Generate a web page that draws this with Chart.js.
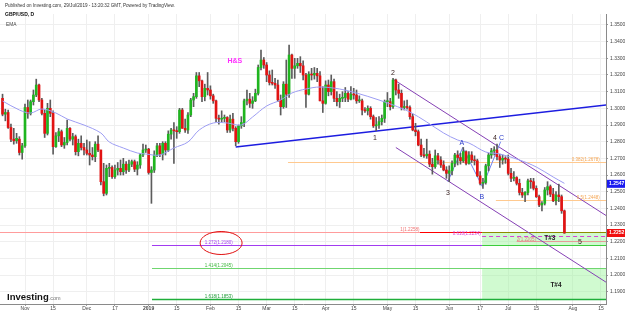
<!doctype html>
<html lang="en">
    <head>
        <meta charset="UTF-8" />
        <title>GBP/USD, D</title>
        <style>
            html, body { margin: 0; padding: 0; background: #fff; }
            canvas { display: block; }
        </style>
    </head>
    <body>
        <canvas id="chart" width="625" height="313"></canvas>

        <script src="https://cdn.jsdelivr.net/npm/chart.js@4.4.0/dist/chart.umd.min.js"></script>

        <script>
            // daily bars, 22 Oct 2018 .. 29 Jul 2019 (index 0 = 22 Oct)
            // prettier-ignore
            const opens = [
                1.3060,1.2965,1.2975,1.2885,1.2815, 1.2805,1.2815,1.2735,1.2775,1.3005,
                1.2970,1.3040,1.3080,1.3140,1.3050, 1.2970,1.2850,1.3000,1.2970,1.2770,
                1.2835,1.2860,1.2780,1.2795,1.2880, 1.2815,1.2830,1.2740,1.2790,1.2765,
                1.2750,1.2730,1.2720,1.2710,1.2785, 1.2750,1.2560,1.2490,1.2640,1.2645,
                1.2590,1.2630,1.2640,1.2620,1.2665, 1.2630,1.2665,1.2680,1.2635,1.2660,
                1.2720,1.2750,1.2755,1.2615,1.2630, 1.2720,1.2775,1.2725,1.2790,1.2750,
                1.2845,1.2870,1.2865,1.2860,1.2990, 1.2880,1.2870,1.2960,1.3050,1.3070,
                1.3195,1.3165,1.3070,1.3120,1.3110, 1.3075,1.3045,1.2940,1.2935,1.2940,
                1.2945,1.2870,1.2935,1.2880,1.2800, 1.2895,1.2915,1.3045,1.3055,1.3030,
                1.3045,1.3090,1.3245,1.3290,1.3260, 1.3200,1.3155,1.3150,1.3140,1.3050,
                1.3010,1.3145,1.3085,1.3320,1.3240, 1.3255,1.3270,1.3255,1.3200,1.3085,
                1.3205,1.3200,1.3210,1.3195,1.3045, 1.3030,1.3140,1.3100,1.3160,1.3060,
                1.3040,1.3060,1.3065,1.3090,1.3055, 1.3085,1.3080,1.3045,1.3045,1.2990,
                1.2985,1.3000,1.2950,1.2895,1.2900, 1.2920,1.2940,1.3040,1.3040,1.3010,
                1.3170,1.3110,1.3090,1.3005,1.3010, 1.3005,1.2950,1.2870,1.2860,1.2780,
                1.2720,1.2715,1.2725,1.2665,1.2650, 1.2715,1.2690,1.2660,1.2630,1.2610,
                1.2625,1.2670,1.2720,1.2705,1.2685, 1.2740,1.2670,1.2720,1.2690,1.2685,
                1.2595,1.2550,1.2555,1.2655,1.2720, 1.2745,1.2750,1.2710,1.2690,1.2700,
                1.2695,1.2610,1.2580,1.2585,1.2550, 1.2495,1.2480,1.2495,1.2565,1.2560,
                1.2520,1.2470,1.2420,1.2430,1.2510, 1.2530,1.2485,1.2445,1.2480,1.2470,
                1.2385
            ];
            // prettier-ignore
            const highs = [
                1.3085,1.2995,1.2990,1.2905,1.2880, 1.2850,1.2830,1.2790,1.3025,1.3050,
                1.3050,1.3110,1.3175,1.3145,1.3060, 1.2990,1.3030,1.3050,1.2985,1.2855,
                1.2880,1.2870,1.2825,1.2930,1.2885, 1.2850,1.2840,1.2815,1.2835,1.2790,
                1.2810,1.2800,1.2765,1.2800,1.2835, 1.2750,1.2670,1.2660,1.2670,1.2655,
                1.2660,1.2675,1.2690,1.2700,1.2680, 1.2690,1.2690,1.2690,1.2680,1.2730,
                1.2785,1.2780,1.2760,1.2650,1.2745, 1.2790,1.2790,1.2800,1.2800,1.2865,
                1.2880,1.2915,1.2890,1.3000,1.3000, 1.2935,1.2975,1.3060,1.3090,1.3215,
                1.3215,1.3170,1.3145,1.3215,1.3135, 1.3085,1.3050,1.2960,1.2985,1.2960,
                1.2950,1.2960,1.2970,1.2890,1.2900, 1.2950,1.3055,1.3110,1.3090,1.3070,
                1.3115,1.3260,1.3350,1.3305,1.3275, 1.3225,1.3230,1.3180,1.3170,1.3080,
                1.3160,1.3290,1.3380,1.3325,1.3300, 1.3300,1.3310,1.3285,1.3210,1.3220,
                1.3240,1.3245,1.3240,1.3220,1.3130, 1.3165,1.3170,1.3200,1.3175,1.3100,
                1.3085,1.3100,1.3125,1.3100,1.3130, 1.3120,1.3110,1.3075,1.3055,1.3005,
                1.3015,1.3010,1.2960,1.2945,1.2950, 1.2960,1.3050,1.3095,1.3060,1.3180,
                1.3175,1.3145,1.3110,1.3045,1.3050, 1.3015,1.2965,1.2910,1.2870,1.2815,
                1.2760,1.2815,1.2745,1.2700,1.2750, 1.2730,1.2710,1.2685,1.2650,1.2655,
                1.2685,1.2730,1.2745,1.2730,1.2765, 1.2745,1.2740,1.2740,1.2715,1.2695,
                1.2620,1.2580,1.2665,1.2730,1.2760, 1.2770,1.2785,1.2725,1.2720,1.2710,
                1.2720,1.2640,1.2620,1.2590,1.2575, 1.2520,1.2500,1.2575,1.2580,1.2580,
                1.2535,1.2480,1.2440,1.2525,1.2560, 1.2540,1.2520,1.2500,1.2545,1.2480,
                1.2390
            ];
            // prettier-ignore
            const lows = [
                1.2955,1.2925,1.2880,1.2800,1.2785, 1.2790,1.2720,1.2695,1.2765,1.2940,
                1.2960,1.3020,1.3070,1.3040,1.2960, 1.2825,1.2840,1.2950,1.2725,1.2765,
                1.2800,1.2770,1.2760,1.2780,1.2805, 1.2780,1.2720,1.2715,1.2750,1.2720,
                1.2720,1.2660,1.2690,1.2680,1.2740, 1.2540,1.2475,1.2480,1.2590,1.2580,
                1.2580,1.2600,1.2600,1.2600,1.2610, 1.2620,1.2650,1.2620,1.2600,1.2640,
                1.2710,1.2735,1.2605,1.2430,1.2615, 1.2710,1.2710,1.2690,1.2720,1.2740,
                1.2815,1.2670,1.2820,1.2850,1.2880, 1.2855,1.2850,1.2950,1.3010,1.3060,
                1.3130,1.3040,1.3045,1.3080,1.3055, 1.3030,1.2920,1.2905,1.2920,1.2920,
                1.2855,1.2855,1.2865,1.2775,1.2790, 1.2880,1.2890,1.3020,1.3005,1.3000,
                1.3040,1.3080,1.3230,1.3240,1.3160, 1.3140,1.3140,1.3120,1.3040,1.2960,
                1.3000,1.3005,1.3065,1.3180,1.3180, 1.3240,1.3215,1.3170,1.3005,1.3080,
                1.3170,1.3175,1.3160,1.3045,1.2975, 1.3025,1.3075,1.3080,1.3040,1.3015,
                1.3005,1.3040,1.3040,1.3040,1.3050, 1.3055,1.3030,1.3035,1.2960,1.2975,
                1.2960,1.2935,1.2885,1.2865,1.2880, 1.2900,1.2915,1.3010,1.2990,1.3000,
                1.3080,1.3060,1.2990,1.2990,1.2995, 1.2935,1.2865,1.2835,1.2775,1.2710,
                1.2705,1.2700,1.2650,1.2605,1.2640, 1.2665,1.2645,1.2625,1.2580,1.2560,
                1.2600,1.2650,1.2660,1.2665,1.2675, 1.2660,1.2665,1.2675,1.2660,1.2590,
                1.2540,1.2520,1.2545,1.2625,1.2700, 1.2720,1.2690,1.2645,1.2665,1.2670,
                1.2600,1.2560,1.2565,1.2540,1.2480, 1.2465,1.2440,1.2480,1.2520,1.2510,
                1.2465,1.2410,1.2385,1.2420,1.2480, 1.2470,1.2440,1.2420,1.2440,1.2370,
                1.2250
            ];
            // prettier-ignore
            const closes = [
                1.2965,1.2975,1.2885,1.2815,1.2805, 1.2820,1.2735,1.2775,1.3005,1.2970,
                1.3040,1.3080,1.3140,1.3050,1.2970, 1.2850,1.3000,1.2970,1.2770,1.2835,
                1.2860,1.2780,1.2795,1.2880,1.2815, 1.2830,1.2740,1.2790,1.2765,1.2750,
                1.2730,1.2720,1.2710,1.2785,1.2750, 1.2560,1.2490,1.2640,1.2645,1.2590,
                1.2630,1.2640,1.2620,1.2665,1.2630, 1.2665,1.2680,1.2635,1.2660,1.2720,
                1.2750,1.2755,1.2615,1.2630,1.2720, 1.2775,1.2725,1.2790,1.2750,1.2845,
                1.2870,1.2865,1.2860,1.2990,1.2880, 1.2870,1.2960,1.3050,1.3070,1.3195,
                1.3165,1.3070,1.3120,1.3110,1.3075, 1.3045,1.2940,1.2935,1.2940,1.2945,
                1.2870,1.2935,1.2880,1.2800,1.2895, 1.2915,1.3045,1.3055,1.3030,1.3045,
                1.3090,1.3245,1.3290,1.3260,1.3200, 1.3155,1.3150,1.3140,1.3050,1.3010,
                1.3145,1.3085,1.3320,1.3240,1.3255, 1.3270,1.3255,1.3200,1.3085,1.3205,
                1.3200,1.3210,1.3195,1.3045,1.3030, 1.3140,1.3100,1.3160,1.3060,1.3040,
                1.3060,1.3065,1.3090,1.3055,1.3085, 1.3080,1.3045,1.3045,1.2990,1.2985,
                1.3000,1.2950,1.2895,1.2900,1.2920, 1.2940,1.3040,1.3040,1.3010,1.3170,
                1.3110,1.3090,1.3005,1.3010,1.3005, 1.2950,1.2870,1.2860,1.2780,1.2720,
                1.2715,1.2725,1.2665,1.2650,1.2715, 1.2690,1.2660,1.2630,1.2610,1.2625,
                1.2670,1.2720,1.2705,1.2685,1.2740, 1.2670,1.2720,1.2690,1.2685,1.2595,
                1.2550,1.2555,1.2655,1.2720,1.2745, 1.2750,1.2710,1.2690,1.2700,1.2695,
                1.2610,1.2580,1.2585,1.2550,1.2495, 1.2480,1.2495,1.2565,1.2560,1.2520,
                1.2470,1.2420,1.2430,1.2510,1.2530, 1.2485,1.2445,1.2480,1.2470,1.2385,
                1.2252
            ];

            // EMA at a few bars
            const emaIdx = [0, 6, 10, 14, 19, 23, 29, 35, 38, 43, 48, 51, 56, 61, 66, 70, 75, 80, 85, 89, 94, 99, 103, 108, 113, 120, 126, 134, 139, 145, 151, 157, 162, 166, 172, 177, 184, 190, 196, 200];
            const emaVal = [1.3044, 1.299, 1.2972, 1.2996, 1.2972, 1.2936, 1.29, 1.2852, 1.2798, 1.2762, 1.2732, 1.2726, 1.272, 1.2762, 1.2798, 1.287, 1.2912, 1.2912, 1.29, 1.2948, 1.3014, 1.305, 1.3092, 1.3116, 1.3128, 1.3116, 1.3092, 1.305, 1.302, 1.2978, 1.2918, 1.2852, 1.281, 1.2792, 1.2738, 1.2726, 1.269, 1.2648, 1.2588, 1.255];

            const xTickIdx = [8, 18, 30, 40, 52, 62, 74, 84, 94, 104, 115, 125, 137, 147, 159, 170, 180, 190, 203, 213];
            const xTickText = ["Nov", "15", "Dec", "17", "2019", "15", "Feb", "15", "Mar", "15", "Apr", "15", "May", "15", "Jun", "17", "Jul", "15", "Aug", "15"];
            const yTicks = [1.19, 1.2, 1.21, 1.22, 1.23, 1.24, 1.25, 1.26, 1.27, 1.28, 1.29, 1.3, 1.31, 1.32, 1.33, 1.34, 1.35];

            const lastPrice = 1.2252;
            const lastEma = 1.2547;

            const UP = "#1fb51f";
            const DOWN = "#e21313";
            const FONT = '"Liberation Sans", Arial, sans-serif';

            const wicks = lows.map((l, i) => ({ x: i, y: [l, highs[i]] }));
            const bodies = opens.map((o, i) => ({ x: i, y: [o, closes[i]] }));
            const bodyColors = opens.map((o, i) => (closes[i] >= o ? UP : DOWN));

            // drawings on the chart, in bar index / price units
            const hLines = [
                // price, from, to, colour, width, dash
                [1.2678, 101.6, 215, "#ffc98f", 1, []],
                [1.245, 175.6, 215, "#ffc98f", 1, []],
                [1.2258, -1, 148.6, "#ff9c9c", 1, []],
                [1.2258, 148.6, 170.7, "#ff0000", 1, []],
                [1.2258, 170.7, 215, "#8c8c00", 1, []],
                [1.2234, 170.7, 215, "#d743d7", 1, [4, 3]],
                [1.2205, 183, 215, "#e79a9a", 1, []],
                [1.218, 53.2, 170.7, "#a23cf0", 1, []],
                [1.218, 170.7, 215, "#3ccc3c", 1, []],
                [1.2042, 53.2, 215, "#6fd66f", 1, []],
                [1.1856, 53.2, 215, "#1fae3a", 1.5, []],
            ];
            const boxes = [
                // from, to, top, bottom
                [170.7, 215, 1.2258, 1.218],
                [170.7, 215, 1.2042, 1.1856],
            ];
            const trendLines = [
                // x1, y1, x2, y2, colour, width
                [83, 1.2768, 215, 1.302, "#1d1de0", 1.5],
                [139, 1.3175, 215, 1.2355, "#8540b5", 1],
                [140, 1.2765, 215, 1.1955, "#8540b5", 1],
            ];
            const abcPath = [
                [158.5, 1.256],
                [163.8, 1.2765],
                [170.8, 1.253],
                [177.3, 1.28],
            ];
            const texts = [
                // idx, price, text, colour, font, align
                [82.7, 1.3284, "H&S", "#ff2cff", "bold 7px", "center"],
                [132.6, 1.2822, "1", "#3b2424", "7px", "center"],
                [139, 1.3212, "2", "#3b2424", "7px", "center"],
                [158.5, 1.2492, "3", "#3b2424", "7px", "center"],
                [175.3, 1.2822, "4", "#3b2424", "7px", "center"],
                [177.6, 1.2822, "C", "#2b3cc9", "7px", "center"],
                [163.5, 1.2792, "A", "#2b3cc9", "7px", "center"],
                [170.6, 1.2468, "B", "#2b3cc9", "7px", "center"],
                [205.5, 1.2198, "5", "#3b2424", "7px", "center"],
                [194.8, 1.2222, "T#3", "#222", "bold 6.5px", "center"],
                [197, 1.194, "T#4", "#222", "bold 6.5px", "center"],
                [212.6, 1.2692, "0.382(1.2678)", "#f5a552", "4.5px", "right"],
                [212.6, 1.2462, "0.5(1.2448)", "#f5a552", "4.5px", "right"],
                [148.4, 1.2271, "1(1.2258)", "#f07070", "4.5px", "right"],
                [170.2, 1.2247, "0.618(1.2234)", "#d743d7", "4.5px", "right"],
                [183, 1.2213, "2(1.2205)", "#e07b7b", "4.5px", "left"],
                [72, 1.2195, "1.272(1.2180)", "#a23cf0", "4.5px", "left"],
                [72, 1.2056, "1.414(1.2045)", "#3fb83f", "4.5px", "left"],
                [72, 1.187, "1.618(1.1853)", "#1a9a33", "4.5px", "left"],
            ];

            const drawings = {
                id: "drawings",
                beforeDatasetsDraw(chart) {
                    const { ctx, chartArea: a } = chart;
                    const xs = chart.scales.x;
                    const ys = chart.scales.y;
                    ctx.save();
                    ctx.beginPath();
                    ctx.rect(a.left, a.top, a.right - a.left, a.bottom - a.top);
                    ctx.clip();

                    boxes.forEach(([x1, x2, t, b]) => {
                        ctx.fillStyle = "rgba(150, 245, 150, 0.45)";
                        const l = xs.getPixelForValue(x1);
                        const top = ys.getPixelForValue(t);
                        ctx.fillRect(l, top, xs.getPixelForValue(x2) - l, ys.getPixelForValue(b) - top);
                    });

                    hLines.forEach(([p, x1, x2, c, w, dash]) => {
                        const y = Math.round(ys.getPixelForValue(p)) + 0.5;
                        ctx.strokeStyle = c;
                        ctx.lineWidth = w;
                        ctx.setLineDash(dash);
                        ctx.beginPath();
                        ctx.moveTo(xs.getPixelForValue(x1), y);
                        ctx.lineTo(xs.getPixelForValue(x2), y);
                        ctx.stroke();
                    });
                    ctx.setLineDash([]);

                    trendLines.forEach(([x1, y1, x2, y2, c, w]) => {
                        ctx.strokeStyle = c;
                        ctx.lineWidth = w;
                        ctx.beginPath();
                        ctx.moveTo(xs.getPixelForValue(x1), ys.getPixelForValue(y1));
                        ctx.lineTo(xs.getPixelForValue(x2), ys.getPixelForValue(y2));
                        ctx.stroke();
                    });

                    ctx.strokeStyle = "#6f80ef";
                    ctx.lineWidth = 1;
                    ctx.beginPath();
                    abcPath.forEach(([i, p], k) => {
                        const px = xs.getPixelForValue(i);
                        const py = ys.getPixelForValue(p);
                        if (k === 0) ctx.moveTo(px, py);
                        else ctx.lineTo(px, py);
                    });
                    ctx.stroke();

                    // red ring round the 1.272 label
                    const cx = xs.getPixelForValue(77.8);
                    const cy = ys.getPixelForValue(1.2192);
                    ctx.strokeStyle = "#e01010";
                    ctx.lineWidth = 1;
                    ctx.beginPath();
                    ctx.ellipse(cx, cy, 21, 11.5, 0, 0, Math.PI * 2);
                    ctx.stroke();
                    ctx.restore();
                },
                afterDatasetsDraw(chart) {
                    const { ctx } = chart;
                    const xs = chart.scales.x;
                    const ys = chart.scales.y;
                    ctx.save();
                    ctx.textBaseline = "middle";
                    texts.forEach(([i, p, t, c, f, al]) => {
                        ctx.font = f + " " + FONT;
                        ctx.fillStyle = c;
                        ctx.textAlign = al;
                        ctx.fillText(t, xs.getPixelForValue(i), ys.getPixelForValue(p));
                    });
                    ctx.restore();
                },
                afterDraw(chart) {
                    const { ctx, chartArea: a } = chart;
                    const ys = chart.scales.y;
                    ctx.save();
                    ctx.textBaseline = "middle";

                    // header
                    ctx.textAlign = "left";
                    ctx.fillStyle = "#333";
                    ctx.font = "4.6px " + FONT;
                    ctx.fillText("Published on Investing.com, 29/Jul/2019 - 13:20:32 GMT, Powered by TradingView.", 5, 5.5);
                    ctx.font = "bold 5px " + FONT;
                    ctx.fillStyle = "#111";
                    ctx.fillText("GBP/USD, D", 5, 14.5);
                    ctx.font = "4.8px " + FONT;
                    ctx.fillStyle = "#444";
                    ctx.fillText("EMA", 6, 25);

                    // price tags on the axis
                    [[lastEma, "#1b1bf0"], [lastPrice, "#f01010"]].forEach(([p, c]) => {
                        const y = ys.getPixelForValue(p);
                        ctx.fillStyle = c;
                        ctx.fillRect(a.right + 1, y - 4, 18, 8);
                        ctx.fillStyle = "#fff";
                        ctx.font = "bold 5px " + FONT;
                        ctx.fillText(p.toFixed(4), a.right + 3, y);
                    });

                    // logo
                    ctx.textBaseline = "alphabetic";
                    ctx.fillStyle = "#111";
                    ctx.font = "bold 9.5px " + FONT;
                    ctx.fillText("Investing", 7, 300);
                    const w = ctx.measureText("Investing").width;
                    ctx.fillStyle = "#777";
                    ctx.font = "5.5px " + FONT;
                    ctx.fillText(".com", 7 + w, 300);
                    ctx.restore();
                },
            };

            Chart.defaults.font.family = FONT;

            new Chart(document.getElementById("chart"), {
                type: "bar",
                data: {
                    datasets: [
                        {
                            type: "line",
                            data: emaIdx.map((x, k) => ({ x: x, y: emaVal[k] })),
                            borderColor: "#9d9df3",
                            borderWidth: 1,
                            pointRadius: 0,
                            tension: 0.35,
                        },
                        {
                            data: bodies,
                            backgroundColor: bodyColors,
                            barThickness: 2,
                            minBarLength: 1,
                            grouped: false,
                        },
                        {
                            data: wicks,
                            backgroundColor: "#5c5c5c",
                            barThickness: 1,
                            grouped: false,
                        },
                    ],
                },
                options: {
                    responsive: false,
                    animation: false,
                    devicePixelRatio: 1,
                    layout: { padding: { top: 14, left: 0, right: 0, bottom: 0 } },
                    plugins: { legend: { display: false }, tooltip: { enabled: false } },
                    scales: {
                        x: {
                            type: "linear",
                            offset: false,
                            min: -0.9,
                            max: 214.8,
                            afterBuildTicks: (s) => {
                                s.ticks = xTickIdx.map((v) => ({ value: v }));
                            },
                            afterFit: (s) => {
                                s.height = 9;
                            },
                            grid: { color: "#efefef", tickLength: 2, tickColor: "#999", offset: false },
                            border: { color: "#8a8a8a" },
                            ticks: {
                                autoSkip: false,
                                maxRotation: 0,
                                padding: 0,
                                color: "#444",
                                font: (c) => ({
                                    size: 5,
                                    weight: c.tick && c.tick.value === 52 ? "bold" : "normal",
                                }),
                                callback: (v) => xTickText[xTickIdx.indexOf(v)],
                            },
                        },
                        y: {
                            type: "linear",
                            position: "right",
                            min: 1.1826,
                            max: 1.3566,
                            afterBuildTicks: (s) => {
                                s.ticks = yTicks.map((v) => ({ value: v }));
                            },
                            afterFit: (s) => {
                                s.width = 19;
                            },
                            grid: { color: "#efefef", tickLength: 2, tickColor: "#999" },
                            border: { color: "#8a8a8a" },
                            ticks: {
                                padding: 2,
                                color: "#444",
                                font: { size: 5 },
                                callback: (v) => v.toFixed(4),
                            },
                        },
                    },
                },
                plugins: [drawings],
            });
        </script>
    </body>
</html>
